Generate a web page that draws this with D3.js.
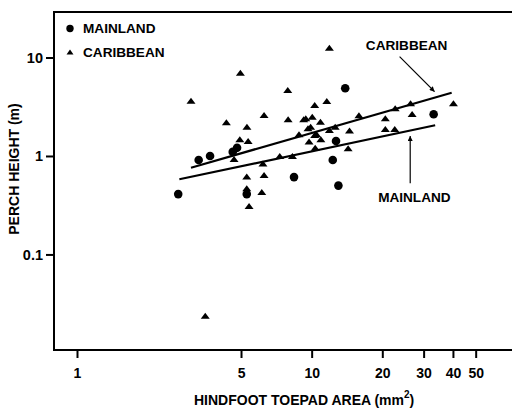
<!DOCTYPE html>
<html><head><meta charset="utf-8">
<script src="https://cdn.jsdelivr.net/npm/d3@7/dist/d3.min.js"></script>
<style>
body{margin:0;background:#fff;}
text{font-family:"Liberation Sans",Arial,Helvetica,sans-serif;font-weight:bold;fill:#000;}
</style>
</head><body>
<svg id="chart" width="512" height="410"></svg>
<script>
// ---- data ----
const mainlandArea  = [2.70, 3.30, 3.69, 4.61, 4.81, 5.29, 8.41, 12.3, 12.7, 13.0, 13.9, 33.1];
const mainlandPerch = [0.41, 0.91, 1.00, 1.10, 1.21, 0.41, 0.61, 0.91, 1.42, 0.50, 4.87, 2.65];

const caribbeanArea  = [3.06, 3.52, 4.33, 4.97, 4.94, 4.67, 5.30, 5.36, 5.29, 5.29, 5.41, 6.13, 6.27, 6.20, 6.27,
                        7.31, 7.91, 7.94, 8.28, 8.83, 9.25, 9.44, 9.65, 9.90, 10.06, 9.75, 10.3, 10.3, 10.35, 10.9,
                        10.95, 11.6, 11.9, 11.9, 12.6, 14.3, 14.5, 15.9, 20.6, 20.6, 22.6, 22.7, 26.4, 26.8, 40.2, 10.5];
const caribbeanPerch = [3.64, 0.0238, 2.20, 7.01, 1.48, 0.93, 1.98, 1.42, 0.62, 0.47, 0.31, 0.43, 2.61, 0.84, 0.64,
                        1.00, 4.68, 2.36, 1.00, 1.66, 2.36, 2.41, 1.91, 1.98, 2.51, 1.40, 3.29, 1.63, 1.21, 2.23,
                        1.48, 3.62, 12.6, 1.84, 1.98, 1.20, 1.81, 2.59, 2.41, 1.88, 1.88, 3.05, 3.43, 2.67, 3.43, 1.66];

// regression line end points [area, perch]
const caribbeanFit = [[3.06, 0.76], [39.5, 4.39]];
const mainlandFit  = [[2.73, 0.58], [33.6, 2.05]];

const xTicks = [1, 5, 10, 20, 30, 40, 50];
const yTicks = [0.1, 1, 10];
const yTickLabels = ["0.1", "1", "10"];

const seriesNames = ["MAINLAND", "CARIBBEAN"];
const xTitle = "HINDFOOT TOEPAD AREA (mm";
const yTitle = "PERCH HEIGHT (m)";

// annotations: label position [area, perch], arrow from -> to
const annotations = [
  {label: "CARIBBEAN", at: [25.4, 11.9], from: [23.7, 10.2], to: [33.4, 4.5]},
  {label: "MAINLAND",  at: [27.4, 0.344], from: [26.3, 0.53], to: [26.3, 1.6]}
];

// ---- scales ----
const svg = d3.select("#chart");
const x = d3.scaleLog().domain([0.798, 75]).range([54, 517]);
const y = d3.scaleLog().domain([0.0107, 29]).range([350, 12]);

// frame
svg.append("rect").attr("x", 54).attr("y", 12).attr("width", 480).attr("height", 338)
  .attr("fill", "none").attr("stroke", "#000").attr("stroke-width", 2);

// axes
const xAxis = d3.axisBottom(x).tickValues(xTicks).tickFormat(d3.format("d")).tickSize(7).tickPadding(10);
const gx = svg.append("g").attr("transform", "translate(0,351)").call(xAxis);
gx.select(".domain").remove();
gx.selectAll("line").attr("stroke-width", 2);
gx.selectAll("text").style("font-size", "14px").style("font-family", "'Liberation Sans',Arial,sans-serif").style("font-weight", "bold");

const yAxis = d3.axisLeft(y).tickValues(yTicks).tickFormat((d, i) => yTickLabels[i]).tickSize(7).tickPadding(3);
const gy = svg.append("g").attr("transform", "translate(53,0)").call(yAxis);
gy.select(".domain").remove();
gy.selectAll("line").attr("stroke-width", 2);
gy.selectAll("text").style("font-size", "14.5px").style("font-family", "'Liberation Sans',Arial,sans-serif").style("font-weight", "bold");

// axis titles
const xt = svg.append("text").attr("x", 194).attr("y", 405).style("font-size", "14px");
xt.append("tspan").text(xTitle);
xt.append("tspan").attr("dx", 0).attr("dy", -7).style("font-size", "10px").text("2");
xt.append("tspan").attr("dy", 7).text(")");

svg.append("text").attr("transform", "translate(19,169) rotate(-90)")
  .attr("text-anchor", "middle").style("font-size", "14px").text(yTitle);

// regression lines
const line = d3.line().x(d => x(d[0])).y(d => y(d[1]));
[caribbeanFit, mainlandFit].forEach(f => {
  svg.append("path").attr("d", line(f)).attr("fill", "none").attr("stroke", "#000").attr("stroke-width", 2.2);
});

// markers
const tri = (w, h) => `M0,${-h/2}L${w/2},${h/2}L${-w/2},${h/2}Z`;
svg.append("g").selectAll("path").data(caribbeanArea.map((a, i) => [a, caribbeanPerch[i]]))
  .join("path").attr("d", tri(9, 6))
  .attr("transform", d => `translate(${x(d[0])},${y(d[1])})`).attr("fill", "#000");

svg.append("g").selectAll("circle").data(mainlandArea.map((a, i) => [a, mainlandPerch[i]]))
  .join("circle").attr("cx", d => x(d[0])).attr("cy", d => y(d[1])).attr("r", 4.3).attr("fill", "#000");

// legend
const lg = svg.append("g");
lg.append("circle").attr("cx", 70).attr("cy", 28.5).attr("r", 3.7).attr("fill", "#000");
lg.append("path").attr("d", tri(7, 5)).attr("transform", "translate(70,52)").attr("fill", "#000");
lg.append("text").attr("x", 83).attr("y", 33.3).style("font-size", "13.6px").text(seriesNames[0]);
lg.append("text").attr("x", 83).attr("y", 56.7).style("font-size", "13.6px").text(seriesNames[1]);

// annotations
svg.append("defs").append("marker").attr("id", "ah").attr("viewBox", "0 0 10 10")
  .attr("refX", 10).attr("refY", 5).attr("markerWidth", 9).attr("markerHeight", 5)
  .attr("markerUnits", "userSpaceOnUse").attr("orient", "auto")
  .append("path").attr("d", "M0,0L10,5L0,10Z").attr("fill", "#000");

annotations.forEach(a => {
  svg.append("text").attr("x", x(a.at[0])).attr("y", y(a.at[1])).attr("text-anchor", "middle")
    .style("font-size", "13.6px").text(a.label);
  svg.append("line").attr("x1", x(a.from[0])).attr("y1", y(a.from[1]))
    .attr("x2", x(a.to[0])).attr("y2", y(a.to[1]))
    .attr("stroke", "#000").attr("stroke-width", 1.2).attr("marker-end", "url(#ah)");
});
</script>
</body></html>
